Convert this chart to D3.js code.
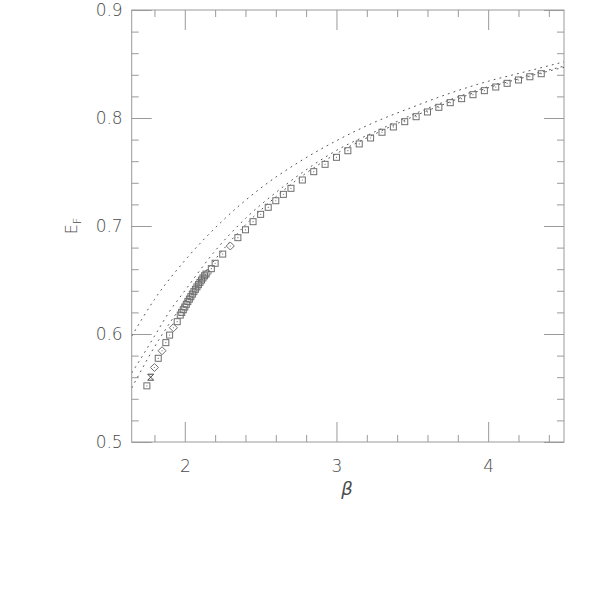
<!DOCTYPE html>
<html>
<head>
<meta charset="utf-8">
<script src="https://cdn.jsdelivr.net/npm/d3@7"></script>
<style>
body { margin: 0; background: #fff; }
svg text { font-family: "DejaVu Sans", sans-serif; fill: #4a4a4a; font-weight: 200; }
</style>
</head>
<body>
<script>
// 数据
var xTicks = [2, 3, 4];
var yTicks = [0.5, 0.6, 0.7, 0.8, 0.9];

// dotted curves
var curveA_beta = [1.65, 1.8, 2.0, 2.25, 2.5, 2.75, 3.0, 3.25, 3.5, 3.75, 4.0, 4.25, 4.5];
var curveA_E    = [0.598, 0.632, 0.668, 0.705, 0.735, 0.759, 0.779, 0.796, 0.810, 0.823, 0.834, 0.843, 0.852];
var curveB_beta = [1.65, 1.7, 1.8, 1.9, 2.0, 2.2, 2.4, 2.6, 2.8, 3.0, 3.25, 3.5, 3.75, 4.0, 4.25, 4.5];
var curveB_E    = [0.564, 0.575, 0.598, 0.621, 0.640, 0.677, 0.707, 0.731, 0.752, 0.770, 0.787, 0.803, 0.817, 0.829, 0.839, 0.848];
var curveC_beta = [1.65, 1.7, 1.8, 1.9, 2.0, 2.2, 2.4, 2.6, 2.8, 3.0, 3.25, 3.5, 3.75, 4.0, 4.25, 4.5];
var curveC_E    = [0.550, 0.563, 0.588, 0.610, 0.630, 0.669, 0.701, 0.727, 0.749, 0.767, 0.785, 0.801, 0.815, 0.828, 0.838, 0.847];

// squares
var sqBeta = [1.75, 1.825, 1.875, 1.9, 1.95,
  1.97, 1.98, 1.99, 2.00, 2.01, 2.02, 2.03, 2.04, 2.05, 2.06, 2.07, 2.08, 2.09, 2.10, 2.11, 2.12, 2.13, 2.14,
  2.175, 2.2, 2.25, 2.35, 2.4, 2.45, 2.5, 2.55, 2.6, 2.65, 2.7,
  2.775, 2.85, 2.925, 3.0, 3.075, 3.15, 3.225, 3.3, 3.375, 3.45, 3.525, 3.6, 3.675, 3.75,
  3.825, 3.9, 3.975, 4.05, 4.125, 4.2, 4.275, 4.35];
var sqE = [0.552, 0.5775, 0.592, 0.599, 0.6114,
  0.6175, 0.6200, 0.6225, 0.6250, 0.6275, 0.6300, 0.6323, 0.6346, 0.6369, 0.6392, 0.6414, 0.6436, 0.6457, 0.6478, 0.6499, 0.6519, 0.6539, 0.6555,
  0.6605, 0.6655, 0.6740, 0.6892, 0.6965, 0.7040, 0.7108, 0.7173, 0.7234, 0.7293, 0.7349,
  0.7426, 0.7503, 0.7571, 0.7636, 0.7697, 0.7760, 0.7815, 0.7868, 0.7917, 0.7966, 0.8012, 0.8056, 0.8099, 0.8142,
  0.8179, 0.8216, 0.8253, 0.8287, 0.8321, 0.8352, 0.8382, 0.8410];

// diamonds
var dmBeta = [1.8, 1.85, 1.925, 2.15, 2.3];
var dmE = [0.569, 0.5845, 0.6058, 0.6565, 0.6815];

// cross
var crBeta = [1.775];
var crE = [0.560];

var width = 595, height = 595;
var padL = 131.7, padR = 564, padT = 10, padB = 442;

var svg = d3.select("body").append("svg").attr("width", width).attr("height", height);

var x = d3.scaleLinear().domain([1.65, 4.5]).range([padL, padR]);
var y = d3.scaleLinear().domain([0.5, 0.9]).range([padB, padT]);

var axisColor = "#9a9a9a";
var markColor = "#6e6e6e";

//生成坐标轴
function styleAxis(g) {
    g.select(".domain").remove();
    g.selectAll("line").attr("stroke", axisColor);
    g.selectAll("text").attr("fill", "#4a4a4a").style("font-size", "17px").style("font-family", "DejaVu Sans, sans-serif");
}
var xMinor = d3.range(1.8, 4.5, 0.2).filter(function (d) { return Math.abs(d - Math.round(d)) > 0.01; });
var yMinor = d3.range(0.5, 0.9, 0.02).filter(function (d) { return Math.abs(d * 10 - Math.round(d * 10)) > 0.01; });

svg.append("g").attr("transform", "translate(0," + padB + ")")
    .call(d3.axisBottom(x).tickValues(xTicks).tickSize(-20).tickSizeOuter(0).tickPadding(18).tickFormat(d3.format("d")))
    .call(styleAxis);
svg.append("g").attr("transform", "translate(0," + padB + ")")
    .call(d3.axisBottom(x).tickValues(xMinor).tickSize(-7).tickSizeOuter(0).tickFormat(""))
    .call(styleAxis);
svg.append("g").attr("transform", "translate(0," + padT + ")")
    .call(d3.axisTop(x).tickValues(xTicks).tickSize(-20).tickSizeOuter(0).tickFormat(""))
    .call(styleAxis);
svg.append("g").attr("transform", "translate(0," + padT + ")")
    .call(d3.axisTop(x).tickValues(xMinor).tickSize(-7).tickSizeOuter(0).tickFormat(""))
    .call(styleAxis);
svg.append("g").attr("transform", "translate(" + padL + ",0)")
    .call(d3.axisLeft(y).tickValues(yTicks).tickSize(-20).tickSizeOuter(0).tickPadding(9).tickFormat(d3.format(".1f")))
    .call(styleAxis);
svg.append("g").attr("transform", "translate(" + padL + ",0)")
    .call(d3.axisLeft(y).tickValues(yMinor).tickSize(-7).tickSizeOuter(0).tickFormat(""))
    .call(styleAxis);
svg.append("g").attr("transform", "translate(" + padR + ",0)")
    .call(d3.axisRight(y).tickValues(yTicks).tickSize(-20).tickSizeOuter(0).tickFormat(""))
    .call(styleAxis);
svg.append("g").attr("transform", "translate(" + padR + ",0)")
    .call(d3.axisRight(y).tickValues(yMinor).tickSize(-7).tickSizeOuter(0).tickFormat(""))
    .call(styleAxis);

svg.append("rect").attr("x", padL).attr("y", padT).attr("width", padR - padL).attr("height", padB - padT)
    .attr("fill", "none").attr("stroke", axisColor).attr("stroke-width", 1);

//轴标题
svg.append("text").attr("x", x(3.07)).attr("y", 495).attr("text-anchor", "middle")
    .style("font-size", "18px").style("font-style", "italic").text("β");
var yl = svg.append("text").attr("transform", "translate(77,226) rotate(-90)").attr("text-anchor", "middle")
    .style("font-size", "16px");
yl.append("tspan").text("E");
yl.append("tspan").attr("dy", 4).style("font-size", "11px").text("F");

//生成虚线
var line = d3.line().x(function (d) { return x(d[0]); }).y(function (d) { return y(d[1]); }).curve(d3.curveMonotoneX);
var curves = [[curveA_beta, curveA_E], [curveB_beta, curveB_E], [curveC_beta, curveC_E]];
svg.append("clipPath").attr("id", "clip").append("rect")
    .attr("x", padL).attr("y", padT).attr("width", padR - padL).attr("height", padB - padT);
svg.selectAll("path.curve").data(curves).enter().append("path").attr("class", "curve")
    .attr("d", function (c) { return line(d3.zip(c[0], c[1])); })
    .attr("fill", "none").attr("stroke", "#555").attr("stroke-width", 1)
    .attr("stroke-dasharray", "1.8,4.2").attr("clip-path", "url(#clip)");

//生成点
var sq = d3.zip(sqBeta, sqE);
var s = 3;
svg.selectAll("rect.sq").data(sq).enter().append("rect").attr("class", "sq")
    .attr("x", function (d) { return x(d[0]) - s; })
    .attr("y", function (d) { return y(d[1]) - s; })
    .attr("width", 2 * s).attr("height", 2 * s)
    .attr("fill", "none").attr("stroke", markColor).attr("stroke-width", 1);
svg.selectAll("circle.sqc").data(sq).enter().append("circle").attr("class", "sqc")
    .attr("cx", function (d) { return x(d[0]); })
    .attr("cy", function (d) { return y(d[1]); })
    .attr("r", 0.6).attr("fill", markColor);

var dm = d3.zip(dmBeta, dmE);
svg.selectAll("path.dm").data(dm).enter().append("path").attr("class", "dm")
    .attr("d", "M0,-4L4,0L0,4L-4,0Z")
    .attr("transform", function (d) { return "translate(" + x(d[0]) + "," + y(d[1]) + ")"; })
    .attr("fill", "none").attr("stroke", markColor).attr("stroke-width", 1);
svg.selectAll("circle.dmc").data(dm).enter().append("circle").attr("class", "dmc")
    .attr("cx", function (d) { return x(d[0]); })
    .attr("cy", function (d) { return y(d[1]); })
    .attr("r", 0.6).attr("fill", markColor);

var cr = d3.zip(crBeta, crE);
svg.selectAll("path.cr").data(cr).enter().append("path").attr("class", "cr")
    .attr("d", "M-3,-3L3,-3L-3,3L3,3Z")
    .attr("transform", function (d) { return "translate(" + x(d[0]) + "," + y(d[1]) + ")"; })
    .attr("fill", "none").attr("stroke", "#444").attr("stroke-width", 1);
</script>
</body>
</html>
